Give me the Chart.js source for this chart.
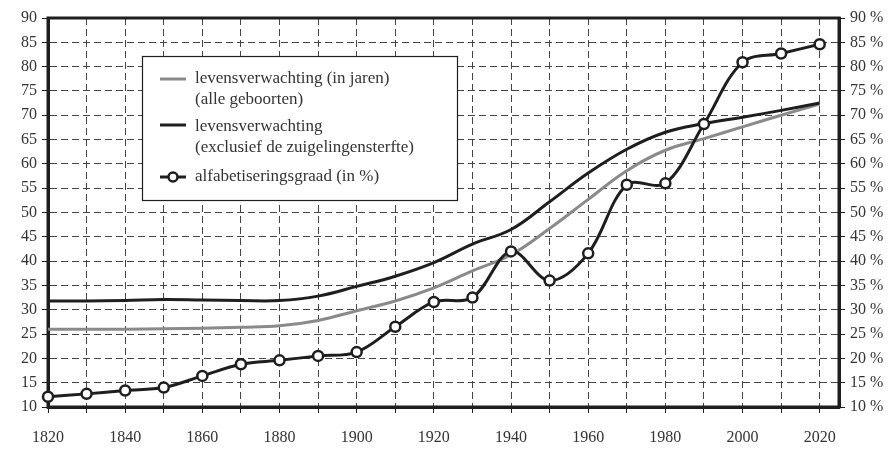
<!DOCTYPE html>
<html><head><meta charset="utf-8">
<script src="https://cdn.jsdelivr.net/npm/chart.js@4"></script>
<style>html,body{margin:0;padding:0;background:#fff}#wrap{width:891px;height:449px;position:relative}</style>
</head><body><div id="wrap"><canvas id="c" width="891" height="449"></canvas></div>
<script>
const years = [1820,1830,1840,1850,1860,1870,1880,1890,1900,1910,1920,1930,1940,1950,1960,1970,1980,1990,2000,2010,2020];
const lifeAll = [26.0,26.0,26.0,26.1,26.2,26.4,26.7,27.8,29.8,31.8,34.5,38.0,41.3,46.7,52.7,58.6,62.8,65.2,67.6,70.0,72.3];
const lifeExcl = [31.8,31.8,31.9,32.1,32.0,31.9,31.9,32.8,34.8,36.9,39.7,43.5,46.5,52.2,58.1,63.0,66.5,68.3,69.6,71.0,72.5];
const literacy = [12.1,12.7,13.4,14.0,16.4,18.8,19.6,20.5,21.3,26.5,31.6,32.5,42.0,36.0,41.6,55.7,56.0,68.2,80.9,82.7,84.6];
const legendAll = ['levensverwachting (in jaren)', '(alle geboorten)'];
const legendExcl = ['levensverwachting', '(exclusief de zuigelingensterfte)'];
const legendLit = ['alfabetiseringsgraad (in %)'];

const FAMILY = '"Liberation Serif", "DejaVu Serif", serif';
const FONT = {family: FAMILY, size: 16};
const TXT = '#333';
const DARK = '#1e1e1e';
const GRAY = '#8a8a8a';

const pts = arr => arr.map((v, i) => ({x: years[i], y: v}));

const framePlugin = {
  id: 'frame',
  beforeDatasetsDraw(chart) {
    const a = chart.chartArea, ctx = chart.ctx;
    ctx.save();
    ctx.strokeStyle = DARK; ctx.lineWidth = 3;
    ctx.strokeRect(a.left, a.top, a.right - a.left, a.bottom - a.top);
    ctx.restore();
  }
};

const legendPlugin = {
  id: 'boxLegend',
  afterDatasetsDraw(chart) {
    const ctx = chart.ctx;
    const bx = 142, by = 56, bw = 315, bh = 144;
    ctx.save();
    ctx.fillStyle = '#fff'; ctx.fillRect(bx, by, bw, bh);
    ctx.strokeStyle = DARK; ctx.lineWidth = 1.2; ctx.strokeRect(bx + 0.5, by + 0.5, bw, bh);
    ctx.font = '17px ' + FAMILY;
    ctx.fillStyle = TXT; ctx.textBaseline = 'middle'; ctx.textAlign = 'left';
    const items = [
      {lines: legendAll, y: 79, color: GRAY, sampleY: 79, marker: false},
      {lines: legendExcl, y: 127, color: DARK, sampleY: 125, marker: false},
      {lines: legendLit, y: 177, color: DARK, sampleY: 177, marker: true}
    ];
    items.forEach(it => {
      ctx.strokeStyle = it.color; ctx.lineWidth = 3;
      ctx.beginPath(); ctx.moveTo(160, it.sampleY); ctx.lineTo(186, it.sampleY); ctx.stroke();
      if (it.marker) {
        ctx.beginPath(); ctx.arc(173, it.sampleY, 4.5, 0, Math.PI * 2);
        ctx.fillStyle = '#fff'; ctx.fill(); ctx.lineWidth = 2.5; ctx.stroke();
      }
      ctx.fillStyle = TXT;
      it.lines.forEach((t, k) => ctx.fillText(t, 195, it.y + k * 21));
    });
    ctx.restore();
  }
};

new Chart(document.getElementById('c'), {
  type: 'line',
  data: {
    datasets: [
      {label: legendLit.join(' '), data: pts(literacy), yAxisID: 'y2', borderColor: DARK, borderWidth: 3,
       pointRadius: 5, pointBorderWidth: 2.5, pointBackgroundColor: '#fff', pointBorderColor: DARK, tension: 0.35, clip: false},
      {label: legendExcl.join(' '), data: pts(lifeExcl), yAxisID: 'y', borderColor: DARK, borderWidth: 3,
       pointRadius: 0, tension: 0.4, clip: false},
      {label: legendAll.join(' '), data: pts(lifeAll), yAxisID: 'y', borderColor: GRAY, borderWidth: 3,
       pointRadius: 0, tension: 0.4, clip: false}
    ]
  },
  options: {
    responsive: false, animation: false, devicePixelRatio: 1,
    layout: {padding: {top: 18, left: 0, right: 0, bottom: 0}},
    plugins: {legend: {display: false}, tooltip: {enabled: false}},
    scales: {
      x: {
        type: 'linear', min: 1820, max: 2025,
        afterFit: s => { s.height = 42; },
        ticks: {stepSize: 10, includeBounds: false, autoSkip: false, maxRotation: 0, font: FONT, color: TXT, padding: 15,
          callback: v => (v % 20 === 0 ? String(v) : '')},
        grid: {color: '#444', lineWidth: 1, tickLength: 6, tickColor: DARK},
        border: {display: true, color: DARK, width: 3, dash: [7, 4]}
      },
      y: {
        position: 'left', min: 10, max: 90,
        afterFit: s => { s.width = 48; },
        ticks: {stepSize: 5, font: FONT, color: TXT, padding: 5},
        grid: {color: '#444', lineWidth: 1, tickLength: 6, tickColor: DARK},
        border: {display: true, color: DARK, width: 3, dash: [7, 4]}
      },
      y2: {
        position: 'right', min: 10, max: 90,
        afterFit: s => { s.width = 52; },
        ticks: {stepSize: 5, font: FONT, color: TXT, padding: 5, callback: v => v + ' %'},
        grid: {drawOnChartArea: false, tickLength: 6, tickColor: DARK, color: DARK},
        border: {display: true, color: DARK, width: 3}
      }
    }
  },
  plugins: [framePlugin, legendPlugin]
});
</script></body></html>
